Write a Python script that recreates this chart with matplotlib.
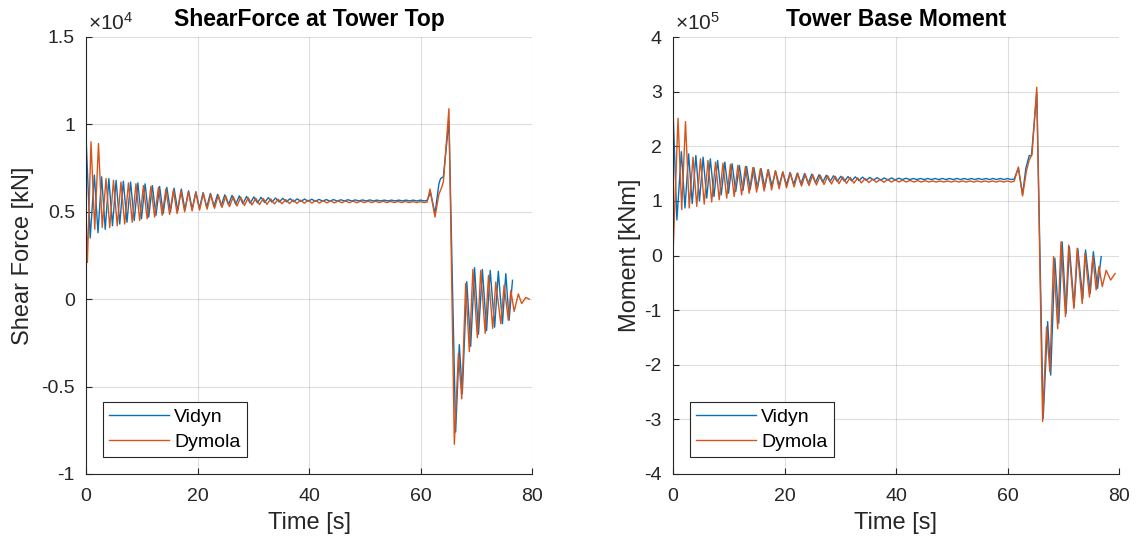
import numpy as np
import matplotlib
matplotlib.use("Agg")
import matplotlib.pyplot as plt
from matplotlib.ticker import FuncFormatter

plt.rcParams["font.family"] = ["Liberation Sans", "DejaVu Sans"]
plt.rcParams["mathtext.fontset"] = "custom"
plt.rcParams["mathtext.rm"] = "Liberation Sans"
plt.rcParams["mathtext.it"] = "Liberation Sans:italic"

# times of the local maxima / minima of each run [s]
dym_peak_t = [0.90, 2.24, 3.59, 4.93, 6.27, 7.62, 8.96, 10.30, 11.64, 12.99, 14.33, 15.67,
              17.02, 18.36, 19.70, 21.05, 22.39, 23.73, 25.07, 26.42, 27.76, 29.10, 30.45,
              31.79, 33.13, 34.48, 35.82, 37.16, 38.50, 39.85, 41.19, 42.53, 43.88, 45.22,
              46.56, 47.90, 49.25, 50.59, 51.93, 53.28, 54.62, 55.96, 57.30, 58.65, 59.99]
dym_trough_t = [1.57, 2.91, 4.26, 5.60, 6.94, 8.29, 9.63, 10.97, 12.31, 13.66, 15.00, 16.34,
                17.69, 19.03, 20.37, 21.72, 23.06, 24.40, 25.74, 27.09, 28.43, 29.77, 31.12,
                32.46, 33.80, 35.15, 36.49, 37.83, 39.17, 40.52, 41.86, 43.20, 44.55, 45.89,
                47.23, 48.57, 49.92, 51.26, 52.60, 53.95, 55.29, 56.63, 57.97, 59.32, 60.66]
vid_peak_t = [1.5, 2.8, 4.1, 5.4, 6.7, 8.0, 9.3, 10.6, 11.9, 13.2, 14.5, 15.8, 17.1, 18.4,
              19.7, 21.0, 22.3, 23.6, 24.9, 26.2, 27.5, 28.8, 30.1, 31.4, 32.7, 34.0, 35.3,
              36.6, 37.9, 39.2, 40.5, 41.8, 43.1, 44.4, 45.7, 47.0, 48.3, 49.6, 50.9, 52.2,
              53.5, 54.8, 56.1, 57.4, 58.7, 60.0]
vid_trough_t = [2.15, 3.45, 4.75, 6.05, 7.35, 8.65, 9.95, 11.25, 12.55, 13.85, 15.15, 16.45,
                17.75, 19.05, 20.35, 21.65, 22.95, 24.25, 25.55, 26.85, 28.15, 29.45, 30.75,
                32.05, 33.35, 34.65, 35.95, 37.25, 38.55, 39.85, 41.15, 42.45, 43.75, 45.05,
                46.35, 47.65, 48.95, 50.25, 51.55, 52.85, 54.15, 55.45, 56.75, 58.05, 59.35,
                60.65]

# shear force at tower top, x 1e4 kN
shear_dym_head_t = [0.0, 0.25]
shear_dym_head = [0.50, 0.21]
shear_dym_peaks = [0.90, 0.89, 0.69, 0.68, 0.67, 0.665, 0.66, 0.65, 0.645, 0.64, 0.63, 0.625,
                   0.62, 0.615, 0.61, 0.605, 0.60, 0.595, 0.59, 0.587, 0.584, 0.581, 0.578,
                   0.576, 0.574, 0.572, 0.570, 0.568, 0.567, 0.566, 0.565, 0.564, 0.563, 0.562,
                   0.562, 0.561, 0.561, 0.560, 0.560, 0.560, 0.559, 0.559, 0.559, 0.558, 0.558]
shear_dym_troughs = [0.40, 0.41, 0.41, 0.42, 0.43, 0.44, 0.45, 0.46, 0.47, 0.48, 0.485, 0.49,
                     0.50, 0.505, 0.51, 0.515, 0.52, 0.525, 0.53, 0.533, 0.536, 0.539, 0.541,
                     0.543, 0.545, 0.546, 0.547, 0.548, 0.549, 0.550, 0.550, 0.551, 0.551,
                     0.552, 0.552, 0.552, 0.553, 0.553, 0.553, 0.553, 0.553, 0.553, 0.553,
                     0.553, 0.553]
shear_dym_tail_t = [61.2, 61.7, 62.6, 63.3, 63.8, 64.1, 65.1, 66.07, 66.8, 67.4, 68.1, 68.76,
                    69.4, 70.2, 70.8, 71.6, 72.2, 72.95, 73.5, 74.4, 75.0, 75.75, 76.2, 76.8,
                    77.55, 78.15, 78.9, 79.5]
shear_dym_tail = [0.556, 0.63, 0.47, 0.60, 0.64, 0.67, 1.09, -0.83, -0.31, -0.57, 0.09, -0.30,
                  0.17, -0.22, 0.165, -0.195, 0.136, -0.167, 0.098, -0.14, 0.08, -0.12, 0.05,
                  -0.07, 0.03, -0.025, 0.01, 0.0]

shear_vid_head_t = [0.0, 0.75]
shear_vid_head = [0.93, 0.35]
shear_vid_peaks = [0.71, 0.70, 0.69, 0.68, 0.675, 0.67, 0.665, 0.66, 0.65, 0.645, 0.64, 0.635,
                   0.63, 0.62, 0.615, 0.61, 0.605, 0.60, 0.597, 0.594, 0.591, 0.588, 0.585,
                   0.583, 0.581, 0.579, 0.577, 0.575, 0.574, 0.573, 0.572, 0.571, 0.570, 0.570,
                   0.569, 0.569, 0.568, 0.568, 0.568, 0.567, 0.567, 0.567, 0.567, 0.567, 0.567,
                   0.567]
shear_vid_troughs = [0.38, 0.40, 0.42, 0.43, 0.44, 0.45, 0.46, 0.47, 0.48, 0.49, 0.50, 0.505,
                     0.51, 0.515, 0.52, 0.525, 0.53, 0.535, 0.54, 0.543, 0.546, 0.549, 0.551,
                     0.553, 0.555, 0.556, 0.557, 0.558, 0.559, 0.560, 0.560, 0.561, 0.561,
                     0.561, 0.562, 0.562, 0.562, 0.562, 0.562, 0.562, 0.562, 0.562, 0.562,
                     0.562, 0.562, 0.562]
shear_vid_tail_t = [61.2, 61.8, 62.6, 63.3, 63.6, 64.1, 65.1, 66.3, 66.96, 67.5, 68.3, 69.0,
                    69.7, 70.4, 71.1, 71.85, 72.5, 73.3, 73.96, 74.7, 75.3, 75.9, 76.5]
shear_vid_tail = [0.566, 0.61, 0.49, 0.66, 0.69, 0.70, 1.02, -0.76, -0.26, -0.54, 0.10, -0.27,
                  0.18, -0.20, 0.17, -0.18, 0.165, -0.16, 0.16, -0.14, 0.146, -0.12, 0.108]

# tower base moment, x 1e5 kNm
moment_dym_head_t = [0.0]
moment_dym_head = [0.02]
moment_dym_peaks = [2.51, 2.45, 1.80, 1.77, 1.74, 1.71, 1.69, 1.67, 1.65, 1.63, 1.61, 1.59,
                    1.57, 1.55, 1.53, 1.51, 1.50, 1.49, 1.48, 1.47, 1.46, 1.45, 1.44, 1.43,
                    1.42, 1.41, 1.40, 1.395, 1.39, 1.385, 1.38, 1.375, 1.37, 1.37, 1.365, 1.365,
                    1.365, 1.365, 1.365, 1.365, 1.365, 1.365, 1.365, 1.365, 1.365]
moment_dym_troughs = [0.84, 0.87, 0.90, 0.94, 0.98, 1.02, 1.05, 1.08, 1.11, 1.14, 1.16, 1.18,
                      1.20, 1.22, 1.24, 1.255, 1.27, 1.28, 1.29, 1.30, 1.31, 1.315, 1.32, 1.325,
                      1.33, 1.335, 1.34, 1.34, 1.345, 1.345, 1.345, 1.345, 1.345, 1.345, 1.345,
                      1.345, 1.345, 1.345, 1.345, 1.345, 1.345, 1.345, 1.345, 1.345, 1.345]
moment_dym_tail_t = [61.2, 61.95, 62.7, 63.4, 63.9, 64.4, 65.25, 66.3, 67.0, 67.6, 68.26, 69.0,
                     69.6, 70.4, 70.97, 71.9, 72.5, 73.4, 73.9, 74.7, 75.3, 75.9, 76.4, 77.0,
                     77.7, 78.5, 79.3]
moment_dym_tail = [1.36, 1.62, 1.09, 1.55, 1.75, 1.85, 3.08, -3.04, -1.31, -2.13, -0.02, -1.34,
                   0.25, -1.12, 0.19, -0.97, 0.13, -0.88, 0.04, -0.76, -0.02, -0.63, -0.20,
                   -0.57, -0.27, -0.45, -0.33]

moment_vid_head_t = [0.0, 0.7]
moment_vid_head = [2.66, 0.65]
moment_vid_peaks = [1.90, 1.86, 1.83, 1.80, 1.77, 1.74, 1.71, 1.68, 1.65, 1.63, 1.61, 1.59,
                    1.57, 1.55, 1.53, 1.52, 1.51, 1.50, 1.49, 1.48, 1.47, 1.46, 1.45, 1.445,
                    1.44, 1.435, 1.43, 1.425, 1.42, 1.42, 1.415, 1.415, 1.41, 1.41, 1.41, 1.41,
                    1.41, 1.41, 1.41, 1.41, 1.41, 1.41, 1.41, 1.41, 1.41, 1.41]
moment_vid_troughs = [0.87, 0.95, 1.00, 1.05, 1.08, 1.11, 1.14, 1.17, 1.19, 1.21, 1.23, 1.25,
                      1.27, 1.28, 1.29, 1.30, 1.31, 1.32, 1.33, 1.34, 1.35, 1.355, 1.36, 1.365,
                      1.37, 1.375, 1.38, 1.38, 1.385, 1.385, 1.39, 1.39, 1.39, 1.39, 1.39, 1.39,
                      1.39, 1.39, 1.39, 1.39, 1.39, 1.39, 1.39, 1.39, 1.39, 1.39]
moment_vid_tail_t = [61.2, 61.95, 62.7, 63.3, 63.9, 64.3, 65.25, 66.4, 67.2, 67.75, 68.5, 69.2,
                     69.8, 70.5, 71.1, 71.95, 72.6, 73.5, 74.0, 74.85, 75.4, 76.15, 76.8]
moment_vid_tail = [1.40, 1.60, 1.12, 1.60, 1.83, 1.83, 2.98, -2.98, -1.21, -2.19, -0.05, -1.24,
                   0.25, -1.06, 0.16, -0.94, 0.13, -0.79, 0.10, -0.69, 0.07, -0.60, -0.02]

C_VID = "#0072BD"
C_DYM = "#D95319"
INK = "#262626"


def series(head_t, head, peak_t, peaks, trough_t, troughs, tail_t, tail):
    # peaks come first in each cycle, so interleave peak/trough pairs
    mid_t = np.column_stack([peak_t, trough_t]).ravel()
    mid = np.column_stack([peaks, troughs]).ravel()
    t = np.concatenate([head_t, mid_t, tail_t])
    y = np.concatenate([head, mid, tail])
    return t, y


def style_axes(ax, scale, exp, ylim, ystep):
    ax.set_xlim(0, 80)
    ax.set_ylim(ylim[0] * scale, ylim[1] * scale)
    ax.set_xticks([0, 20, 40, 60, 80])
    ax.set_yticks(np.arange(ylim[0], ylim[1] + 1e-9, ystep) * scale)
    ax.yaxis.set_major_formatter(FuncFormatter(lambda v, p: "%g" % round(v / scale, 3)))
    ax.grid(True, color=INK, alpha=0.15, linewidth=0.8)
    ax.set_axisbelow(True)
    for s in ("top", "right"):
        ax.spines[s].set_visible(False)
    for s in ("left", "bottom"):
        ax.spines[s].set_color(INK)
        ax.spines[s].set_linewidth(0.8)
    ax.tick_params(direction="in", length=4, color=INK, labelcolor=INK, labelsize=14)
    ax.tick_params(axis="x", pad=10)
    ax.tick_params(axis="y", pad=8)
    ax.text(0.004, 1.008, r"$\times10^{%d}$" % exp, transform=ax.transAxes,
            ha="left", va="bottom", fontsize=15, color=INK)
    ax.set_xlabel("Time [s]", fontsize=17, color=INK, labelpad=5)
    leg = ax.legend(loc="lower left", bbox_to_anchor=(0.038, 0.039), borderaxespad=0,
                    fontsize=14, fancybox=False, framealpha=1, edgecolor=INK,
                    handlelength=3.1, handletextpad=0.27, labelspacing=0.4, borderpad=0.3)
    leg.get_frame().set_linewidth(0.8)


fig = plt.figure(figsize=(11.36, 5.41), dpi=100)
ax1 = fig.add_axes([86 / 1136, 67 / 541, 446 / 1136, 437 / 541])
ax2 = fig.add_axes([673 / 1136, 67 / 541, 446 / 1136, 437 / 541])

t, y = series(shear_vid_head_t, shear_vid_head, vid_peak_t, shear_vid_peaks,
              vid_trough_t, shear_vid_troughs, shear_vid_tail_t, shear_vid_tail)
ax1.plot(t, y * 1e4, color=C_VID, lw=1.0, label="Vidyn")
t, y = series(shear_dym_head_t, shear_dym_head, dym_peak_t, shear_dym_peaks,
              dym_trough_t, shear_dym_troughs, shear_dym_tail_t, shear_dym_tail)
ax1.plot(t, y * 1e4, color=C_DYM, lw=1.0, label="Dymola")
style_axes(ax1, 1e4, 4, (-1, 1.5), 0.5)
ax1.set_ylabel("Shear Force [kN]", fontsize=17, color=INK, labelpad=5)
ax1.set_title("ShearForce at Tower Top", fontsize=16.5, fontweight="bold", pad=8)

t, y = series(moment_vid_head_t, moment_vid_head, vid_peak_t, moment_vid_peaks,
              vid_trough_t, moment_vid_troughs, moment_vid_tail_t, moment_vid_tail)
ax2.plot(t, y * 1e5, color=C_VID, lw=1.0, label="Vidyn")
t, y = series(moment_dym_head_t, moment_dym_head, dym_peak_t, moment_dym_peaks,
              dym_trough_t, moment_dym_troughs, moment_dym_tail_t, moment_dym_tail)
ax2.plot(t, y * 1e5, color=C_DYM, lw=1.0, label="Dymola")
style_axes(ax2, 1e5, 5, (-4, 4), 1)
ax2.set_ylabel("Moment [kNm]", fontsize=17, color=INK, labelpad=2.5)
ax2.set_title("Tower Base Moment", fontsize=16.5, fontweight="bold", pad=8)

fig.savefig("out.png", dpi=100)
